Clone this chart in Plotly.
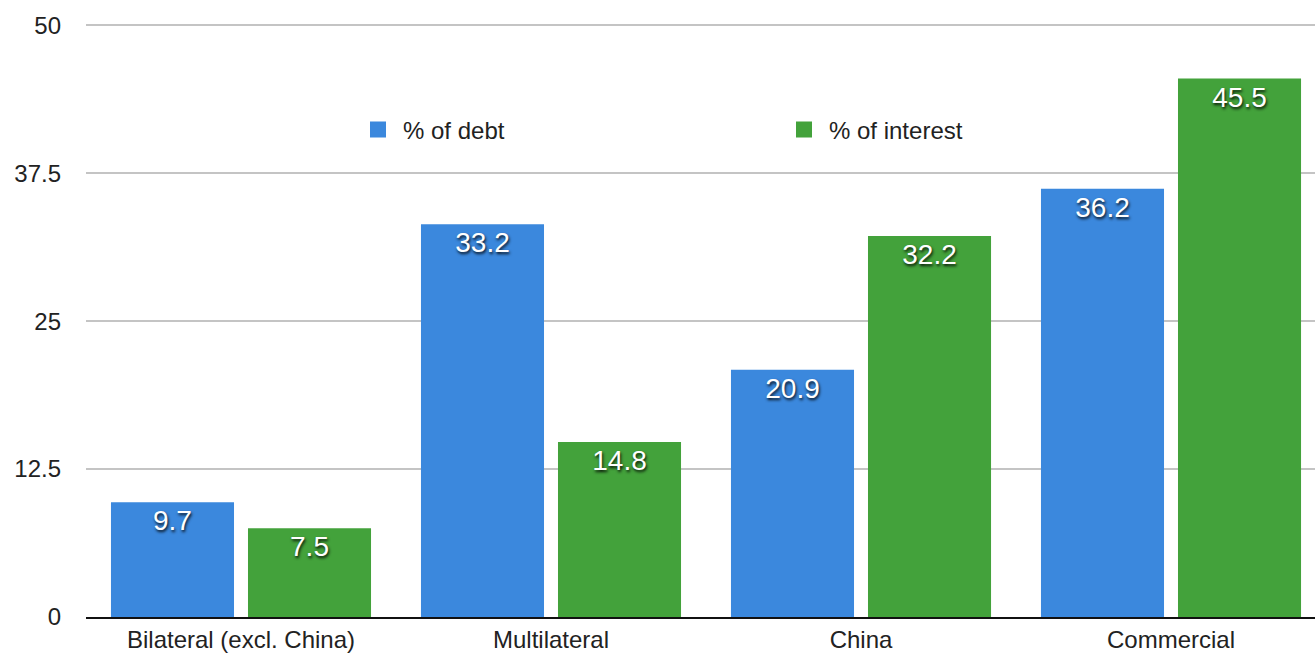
import plotly.graph_objects as go

categories = ["Bilateral (excl. China)", "Multilateral", "China", "Commercial"]
debt_pct = [9.7, 33.2, 20.9, 36.2]
interest_pct = [7.5, 14.8, 32.2, 45.5]
y_ticks = [0, 12.5, 25, 37.5, 50]
y_tick_labels = ["0", "12.5", "25", "37.5", "50"]

FONT = "Liberation Sans, Arial, Helvetica, sans-serif"
BLUE = "#3b88dd"
GREEN = "#43a23b"
label_font = dict(family=FONT, size=28, color="white",
                  shadow="1px 2px 3px rgba(0,0,0,0.9)")

fig = go.Figure()
fig.add_trace(go.Bar(
    x=categories, y=debt_pct, name="% of debt",
    marker=dict(color=BLUE, line=dict(width=0)),
    text=[f"{v:.1f}" for v in debt_pct], textposition="inside",
    insidetextanchor="end", textfont=label_font, constraintext="none",
    showlegend=False, cliponaxis=False))
fig.add_trace(go.Bar(
    x=categories, y=interest_pct, name="% of interest",
    marker=dict(color=GREEN, line=dict(width=0)),
    text=[f"{v:.1f}" for v in interest_pct], textposition="inside",
    insidetextanchor="end", textfont=label_font, constraintext="none",
    showlegend=False, cliponaxis=False))

# legend entries
fig.add_trace(go.Scatter(x=[None], y=[None], mode="markers", name="% of debt",
                         marker=dict(symbol="square", size=16, color=BLUE),
                         legend="legend"))
fig.add_trace(go.Scatter(x=[None], y=[None], mode="markers", name="% of interest",
                         marker=dict(symbol="square", size=16, color=GREEN),
                         legend="legend2"))

PL, PT, PW, PH = 86, 23, 1229, 594
legend_common = dict(orientation="h", font=dict(family=FONT, size=24, color="#222"),
                     bgcolor="rgba(0,0,0,0)", xref="paper", yref="paper",
                     xanchor="left", yanchor="middle", itemwidth=40)

fig.update_layout(
    width=1315, height=653,
    margin=dict(l=PL, r=0, t=PT, b=36, autoexpand=False),
    paper_bgcolor="white", plot_bgcolor="white",
    barmode="group", bargap=0.116, bargroupgap=0.102,
    font=dict(family=FONT, size=24, color="#222"),
    legend=dict(**legend_common, x=(353 - PL) / PW, y=(PT + PH - 130) / PH),
    legend2=dict(**legend_common, x=(779 - PL) / PW, y=(PT + PH - 130) / PH),
    xaxis=dict(range=[-0.5, 3.4645], showgrid=False, showline=True,
               linecolor="#111", linewidth=2, ticks="", tickfont=dict(size=24, color="#222"),
               fixedrange=True),
    yaxis=dict(range=[0, 50.2], tickvals=y_ticks, ticktext=y_tick_labels,
               showgrid=True, gridcolor="#c4c4c4", gridwidth=2,
               zeroline=False, showline=False, ticks="",
               ticklabelstandoff=24, tickfont=dict(size=24, color="#222"),
               fixedrange=True),
)

fig.write_html("out.html")
